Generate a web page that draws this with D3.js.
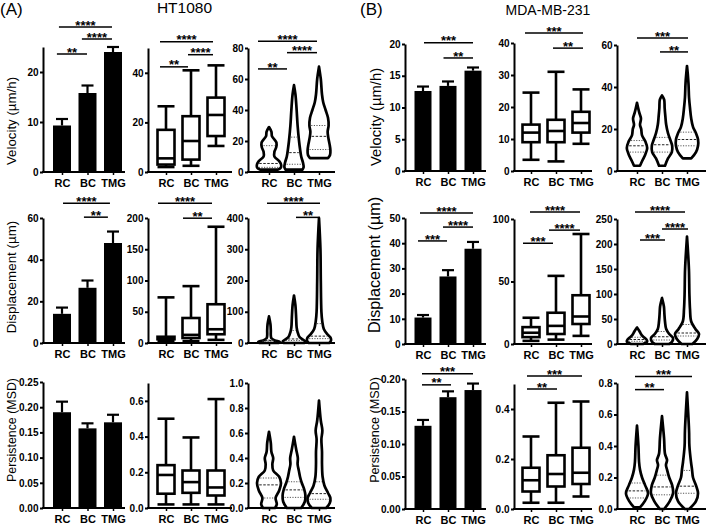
<!DOCTYPE html>
<html><head><meta charset="utf-8">
<script src="https://cdn.jsdelivr.net/npm/d3@7"></script>
<style>body{margin:0;background:#fff}svg{display:block}text{font-family:"Liberation Sans",Arial,sans-serif}</style>
</head><body><svg id="c" width="709" height="526"></svg>
<script>
const cats = ["RC","BC","TMG"];

// ---------- HT1080 ----------
const htVelMean = [9.3, 15.8, 24.0], htVelSem = [1.3, 1.5, 1.0];
const htDispMean = [14.0, 26.5, 48.0], htDispSem = [3.0, 3.5, 5.5];
const htPersMean = [0.190, 0.158, 0.170], htPersSem = [0.021, 0.010, 0.015];
// box: [min, q1, median, q3, max]
const htVelBox = [[2.0,3.0,5.5,17.0,26.5],[2.5,5.0,12.5,22.5,41.0],[10.5,14.5,23.0,30.0,43.0]];
const htDispBox = [[3,6,8,10,73],[3,8,13,40,91],[5,14,22,62,186]];
const htPersBox = [[0.02,0.08,0.185,0.24,0.50],[0.02,0.085,0.145,0.21,0.395],[0.02,0.07,0.115,0.21,0.61]];
// violin density profiles: [value, relative density]
const htVelViolin = [
  [[1.5,0.75],[3,1.0],[5,1.0],[7,0.85],[10,0.45],[13,0.45],[16,0.6],[19,0.62],[21,0.45],[23,0.25],[26,0.2],[29,0]],
  [[1.5,0.7],[3,0.8],[6,0.75],[10,0.6],[15,0.5],[20,0.42],[30,0.3],[40,0.22],[50,0.12],[56,0]],
  [[9,0.75],[11,0.92],[14,0.95],[18,0.88],[22,0.78],[26,0.72],[30,0.8],[35,0.75],[40,0.55],[45,0.35],[50,0.25],[60,0.15],[68,0]]];
const htDispViolin = [
  [[0,0.8],[4,0.9],[8,0.5],[15,0.2],[25,0.15],[40,0.15],[60,0.12],[85,0]],
  [[0,0.85],[5,0.95],[12,0.7],[20,0.45],[35,0.3],[50,0.22],[80,0.18],[120,0.12],[152,0]],
  [[0,0.85],[8,1.0],[18,0.95],[28,0.7],[45,0.4],[70,0.27],[100,0.2],[200,0.15],[300,0.12],[400,0]]];
const htPersViolin = [
  [[0,0.5],[0.03,0.65],[0.08,0.55],[0.14,0.85],[0.2,1.0],[0.25,0.85],[0.3,0.35],[0.35,0.28],[0.4,0.35],[0.45,0.2],[0.52,0.15],[0.61,0]],
  [[0,0.6],[0.05,0.9],[0.1,0.95],[0.15,0.85],[0.2,0.65],[0.25,0.5],[0.3,0.4],[0.35,0.3],[0.4,0.32],[0.47,0.18],[0.57,0]],
  [[0,0.6],[0.04,0.9],[0.08,0.95],[0.12,0.75],[0.18,0.45],[0.25,0.3],[0.35,0.25],[0.45,0.25],[0.55,0.2],[0.62,0.28],[0.7,0.15],[0.86,0]]];

// ---------- MDA-MB-231 ----------
const mdVelMean = [12.6, 13.4, 15.8], mdVelSem = [0.7, 0.7, 0.5];
const mdDispMean = [10.5, 26.8, 37.8], mdDispSem = [1.0, 2.5, 2.7];
const mdPersMean = [0.128, 0.172, 0.183], mdPersSem = [0.009, 0.009, 0.010];
const mdVelBox = [[3.5,9,12,14.5,24.5],[3,9,12.5,16,31],[8.5,12,15,18.5,25.5]];
const mdDispBox = [[2.5,5.5,9,13.5,21],[3.5,8,14.5,25,54.5],[6.5,16,22,39,88]];
const mdPersBox = [[0.025,0.07,0.115,0.165,0.29],[0.025,0.09,0.14,0.215,0.425],[0.05,0.1,0.145,0.245,0.43]];
const mdVelViolin = [
  [[2.5,0.25],[5,0.45],[8,0.7],[11,0.85],[14,0.7],[17,0.42],[20,0.35],[22,0.25],[25,0.33],[28,0.18],[32.5,0]],
  [[2.5,0.25],[6,0.5],[9,0.82],[12,0.85],[15,0.68],[18,0.5],[22,0.35],[26,0.28],[30,0.22],[34,0.18],[36,0]],
  [[6,0.35],[9,0.75],[12,0.92],[15,0.92],[18,0.75],[21,0.5],[25,0.35],[30,0.25],[35,0.17],[42,0.12],[50,0]]];
const mdDispViolin = [
  [[0,0.5],[5,0.85],[10,0.75],[15,0.5],[20,0.33],[25,0.22],[33,0]],
  [[0,0.6],[5,0.85],[12,0.92],[20,0.6],[30,0.35],[45,0.25],[60,0.2],[75,0.16],[92,0]],
  [[0,0.45],[10,0.85],[20,1.0],[30,0.7],[45,0.35],[70,0.25],[100,0.2],[150,0.16],[215,0]]];
const mdPersViolin = [
  [[0.01,0.25],[0.05,0.65],[0.1,0.92],[0.15,0.68],[0.2,0.42],[0.25,0.25],[0.3,0.17],[0.4,0.12],[0.53,0]],
  [[0,0.18],[0.05,0.65],[0.1,0.92],[0.15,0.85],[0.2,0.6],[0.25,0.42],[0.28,0.33],[0.31,0.42],[0.35,0.25],[0.45,0.17],[0.59,0]],
  [[0,0.18],[0.05,0.75],[0.1,0.92],[0.15,0.75],[0.2,0.5],[0.25,0.42],[0.3,0.33],[0.4,0.2],[0.5,0.17],[0.74,0]]];

// axis maxima and tick labels
const htMax = [[25,50,80],[60,200,400],[0.25,0.7,1.0]];
const htTicks = [[[0,10,20],[0,20,40],[0,20,40,60,80]],
                 [[0,20,40,60],[0,50,100,150,200],[0,100,200,300,400]],
                 [[0,0.05,0.1,0.15,0.2,0.25],[0,0.2,0.4,0.6],[0,0.2,0.4,0.6,0.8,1.0]]];
const mdMax = [[20,40,60],[50,100,250],[0.2,0.5,0.8]];
const mdTicks = [[[0,5,10,15,20],[0,10,20,30,40],[0,20,40,60]],
                 [[0,10,20,30,40,50],[0,50,100],[0,50,100,150,200,250]],
                 [[0,0.05,0.1,0.15,0.2],[0,0.2,0.4],[0,0.2,0.4,0.6,0.8]]];
const tickFormats = [["d","d","d"],["d","d","d"],[".2f",".1f",".1f"]];

// significance brackets: [fromIndex, toIndex, value, label]
const htSig = [
  [[[-0.2,0.98,23.6,"**"],[0.78,1.96,26.6,"****"],[-0.12,1.96,29,"****"]],
   [[-0.24,0.88,42.4,"**"],[0.88,1.88,47.3,"****"],[-0.24,1.88,52.5,"****"]],
   [[-0.44,0.72,66.5,"**"],[0.72,1.92,77.0,"****"],[-0.44,1.92,84.4,"****"]]],
  [[[0.86,1.8,60.4,"**"],[0.04,1.88,67.1,"****"]],
   [[0.68,1.84,199.7,"**"],[-0.32,1.84,223.6,"****"]],
   [[1.08,2.04,402,"**"],[-0.08,2.04,447,"****"]]],
  [[],[],[]]];
const mdSig = [
  [[[0.82,2.0,17.8,"**"],[0.04,2.0,20.2,"***"]],
   [[0.88,2.08,38.4,"**"],[-0.24,2.08,43.1,"***"]],
   [[0.92,2.04,56.7,"**"],[0,2.04,63.3,"***"]]],
  [[[-0.2,0.96,40.9,"***"],[0.8,2.0,46.4,"****"],[-0.12,2.0,52,"****"]],
   [[-0.32,0.88,80.6,"***"],[0.72,1.96,91.1,"****"],[-0.04,1.96,105.6,"****"]],
   [[0.12,1.12,208,"***"],[1.0,2.04,230,"****"],[-0.08,1.92,264,"****"]]],
  [[[-0.04,1.12,0.191,"**"],[-0.04,2.0,0.208,"***"]],
   [[-0.16,1.04,0.48,"**"],[-0.16,2.04,0.532,"***"]],
   [[-0.08,1.08,0.758,"**"],[-0.08,2.2,0.841,"***"]]]];

const rowTitles = ["Velocity (\u00b5m/h)","Displacement (\u00b5m)","Persistence (MSD)"];

// ---------- layout ----------
const htCols = [{ax:43,end:125,c0:62,c2:113,w:18},{ax:148,end:232,c0:166,c2:216,w:17},{ax:248,end:335,c0:269,c2:319,hw:12}];
const mdCols = [{ax:405,end:486,c0:423,c2:473,w:17},{ax:514,end:592,c0:531,c2:581,w:17},{ax:617,end:706,c0:637,c2:687,hw:12}];
const htRows = [{y0:172,tops:[47,48,48]},{y0:343,tops:[218,218,218]},{y0:508,tops:[382,383,383]}];
const mdRows = [{y0:171,tops:[44,43,45]},{y0:344,tops:[218,219,219]},{y0:509,tops:[379,384,383]}];
const htTitle = [{x:15.5,y:121,s:13.3},{x:15.5,y:277,s:13.4},{x:15.5,y:430,s:12.4}];
const mdTitle = [{x:381,y:117,s:14.8},{x:380,y:265,s:16.2},{x:379,y:430,s:12.6}];

const svg = d3.select("#c");

function interpDensity(prof, v){
  for(let i=0;i<prof.length-1;i++){
    const a=prof[i], b=prof[i+1];
    if(v>=a[0] && v<=b[0]) return a[1]+(b[1]-a[1])*(v-a[0])/(b[0]-a[0]);
  }
  return 0;
}

function panel(p){
  const g = svg.append("g");
  const y = d3.scaleLinear().domain([0,p.max]).range([p.y0,p.top]);
  const xc = d3.scalePoint().domain(cats).range([p.c0,p.c2]);
  const xi = d3.scaleLinear().domain([0,2]).range([p.c0,p.c2]);

  if(p.type==="bar"){
    g.selectAll("rect.bar").data(p.mean).join("rect")
      .attr("x",(d,i)=>xc(cats[i])-p.w/2).attr("width",p.w)
      .attr("y",d=>y(d)).attr("height",d=>y(0)-y(d)).attr("fill","#000");
    g.selectAll("line.err").data(p.mean).join("line")
      .attr("x1",(d,i)=>xc(cats[i])).attr("x2",(d,i)=>xc(cats[i]))
      .attr("y1",d=>y(d)).attr("y2",(d,i)=>y(d+p.sem[i])).attr("stroke","#000").attr("stroke-width",2.2);
    g.selectAll("line.cap").data(p.mean).join("line")
      .attr("x1",(d,i)=>xc(cats[i])-6).attr("x2",(d,i)=>xc(cats[i])+6)
      .attr("y1",(d,i)=>y(d+p.sem[i])).attr("y2",(d,i)=>y(d+p.sem[i])).attr("stroke","#000").attr("stroke-width",2.2);
  } else if(p.type==="box"){
    p.box.forEach((b,i)=>{
      const cx = xc(cats[i]), hw = p.w/2;
      const s = {stroke:"#000","stroke-width":2.6,fill:"none"};
      const ln = (x1,y1,x2,y2)=>{const l=g.append("line").attr("x1",x1).attr("y1",y1).attr("x2",x2).attr("y2",y2);Object.entries(s).forEach(([k,v])=>l.attr(k,v));};
      ln(cx,y(b[3]),cx,y(b[4])); ln(cx,y(b[1]),cx,y(b[0]));
      ln(cx-hw,y(b[4]),cx+hw,y(b[4])); ln(cx-hw,y(b[0]),cx+hw,y(b[0]));
      g.append("rect").attr("x",cx-hw).attr("width",p.w).attr("y",y(b[3])).attr("height",y(b[1])-y(b[3]))
        .attr("fill","#fff").attr("stroke","#000").attr("stroke-width",2.6);
      ln(cx-hw,y(b[2]),cx+hw,y(b[2]));
    });
  } else {
    const wScale = d3.scaleLinear().domain([0,1]).range([0,p.hw]);
    p.violin.forEach((prof,i)=>{
      const cx = xc(cats[i]);
      const area = d3.area().curve(d3.curveCatmullRom.alpha(0.5))
        .x0(d=>cx-wScale(d[1])).x1(d=>cx+wScale(d[1])).y(d=>y(d[0]));
      g.append("path").attr("d",area(prof)).attr("fill","#fff").attr("stroke","#000")
        .attr("stroke-width",2.7).attr("stroke-linejoin","round");
      const q = p.box[i];
      [[q[1],"1.2,1.4","#555"],[q[2],"2.5,1.5","#222"],[q[3],"1.2,1.4","#555"]].forEach(([v,da,col])=>{
        const w = Math.max(0,wScale(interpDensity(prof,v))-1.8);
        if(w>0.5) g.append("line").attr("x1",cx-w).attr("x2",cx+w).attr("y1",y(v)).attr("y2",y(v))
          .attr("stroke",col).attr("stroke-width",1).attr("stroke-dasharray",da);
      });
    });
  }

  // y axis
  const ya = g.append("g").attr("transform",`translate(${p.ax},0)`)
    .call(d3.axisLeft(y).tickValues(p.ticks).tickFormat(d3.format(p.fmt)).tickSize(3).tickPadding(1.5).tickSizeOuter(0));
  ya.select(".domain").attr("stroke-width",2);
  ya.selectAll(".tick line").attr("stroke-width",2);
  ya.selectAll(".tick text").attr("font-size",10).attr("font-weight","bold").attr("fill","#000")
    .attr("font-family","'Liberation Sans',Arial,sans-serif");
  // x axis
  g.append("line").attr("x1",p.ax-1).attr("x2",p.end).attr("y1",p.y0).attr("y2",p.y0)
    .attr("stroke","#000").attr("stroke-width",2);
  const xa = g.append("g").attr("transform",`translate(0,${p.y0})`)
    .call(d3.axisBottom(xc).tickSize(3).tickPadding(4.2));
  xa.select(".domain").remove();
  xa.selectAll(".tick line").attr("stroke-width",1.5);
  xa.selectAll(".tick text").attr("font-size",11).attr("font-weight","bold").attr("fill","#000")
    .attr("font-family","'Liberation Sans',Arial,sans-serif");

  // significance
  p.sig.forEach(([a,b,v,lab])=>{
    g.append("line").attr("x1",xi(a)).attr("x2",xi(b)).attr("y1",y(v)).attr("y2",y(v))
      .attr("stroke","#000").attr("stroke-width",1.5);
    g.append("text").attr("x",(xi(a)+xi(b))/2).attr("y",y(v)+2.6).attr("text-anchor","middle")
      .attr("font-size",13).attr("font-weight","bold").text(lab);
  });
}

function figure(cols, rows, means, sems, boxes, violins, maxes, ticks, sigs, titles){
  const types = ["bar","box","violin"];
  for(let r=0;r<3;r++){
    for(let c=0;c<3;c++){
      panel(Object.assign({}, cols[c], {
        y0: rows[r].y0, top: rows[r].tops[c], max: maxes[r][c], ticks: ticks[r][c], fmt: tickFormats[r][c],
        type: types[c], mean: means[r], sem: sems[r], box: boxes[r], violin: violins[r], sig: sigs[r][c]}));
    }
    svg.append("text").attr("transform",`translate(${titles[r].x},${titles[r].y}) rotate(-90)`)
      .attr("text-anchor","middle").attr("font-size",titles[r].s).text(rowTitles[r]);
  }
}

figure(htCols, htRows, [htVelMean,htDispMean,htPersMean], [htVelSem,htDispSem,htPersSem],
  [htVelBox,htDispBox,htPersBox], [htVelViolin,htDispViolin,htPersViolin], htMax, htTicks, htSig, htTitle);
figure(mdCols, mdRows, [mdVelMean,mdDispMean,mdPersMean], [mdVelSem,mdDispSem,mdPersSem],
  [mdVelBox,mdDispBox,mdPersBox], [mdVelViolin,mdDispViolin,mdPersViolin], mdMax, mdTicks, mdSig, mdTitle);

svg.append("text").attr("x",0).attr("y",14.5).attr("font-size",17).text("(A)");
svg.append("text").attr("x",184.5).attr("y",13).attr("text-anchor","middle").attr("font-size",15.5).text("HT1080");
svg.append("text").attr("x",360).attr("y",14.5).attr("font-size",17).text("(B)");
svg.append("text").attr("x",548).attr("y",15).attr("text-anchor","middle").attr("font-size",14).text("MDA-MB-231");
</script></body></html>
